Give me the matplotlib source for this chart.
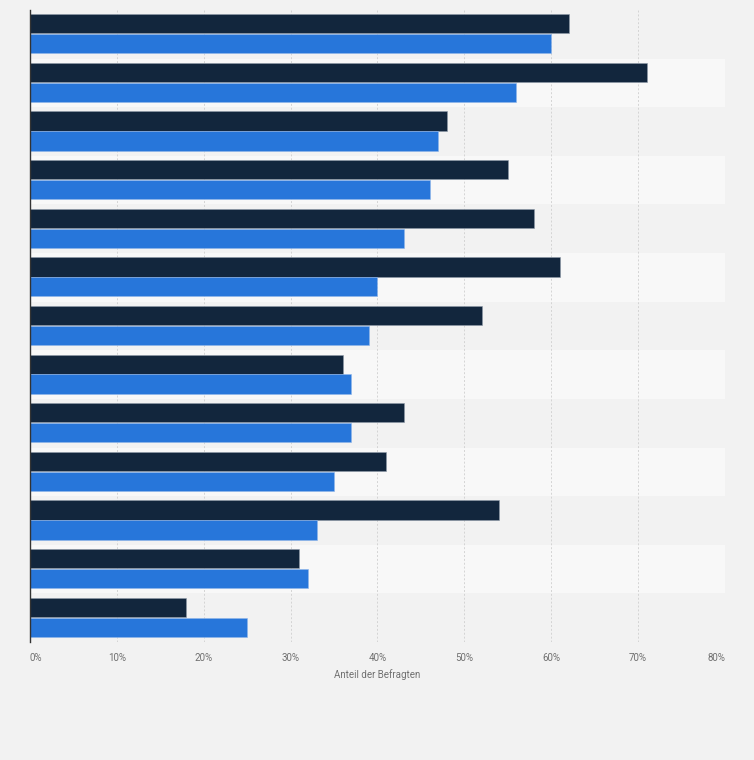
import matplotlib as mpl
import matplotlib.pyplot as plt
import numpy as np

FIG_W, FIG_H = 7.54, 7.60
DPI = 100

BG_COLOR = "#f2f2f2"
BAND_LIGHT = "#f8f8f8"
DARK_COLOR = "#12263d"
BLUE_COLOR = "#2776da"
GRID_COLOR = "#d4d4d4"
TEXT_GRAY = "#707070"

mpl.rcParams.update(
    {
        "font.family": ["Roboto", "DejaVu Sans"],
        "font.size": 7,
        "figure.facecolor": BG_COLOR,
        "savefig.facecolor": BG_COLOR,
    }
)

# one row per group, top to bottom (no category labels shown in the chart)
group_ids = list(range(1, 14))
series_dark = [62, 71, 48, 55, 58, 61, 52, 36, 43, 41, 54, 31, 18]
series_blue = [60, 56, 47, 46, 43, 40, 39, 37, 37, 35, 33, 32, 25]

x_ticks = [0, 10, 20, 30, 40, 50, 60, 70, 80]
x_tick_labels = [f"{t}%" for t in x_ticks]
x_label = "Anteil der Befragten"


def main():
    fig = plt.figure(figsize=(FIG_W, FIG_H), dpi=DPI)
    ax = fig.add_axes([30 / 754, 1 - 642 / 760, 695 / 754, 632 / 760])
    ax.set_facecolor(BG_COLOR)

    y = np.arange(len(group_ids))

    # alternating row bands
    for i in y:
        if i % 2 == 1:
            ax.axhspan(i - 0.5, i + 0.5, color=BAND_LIGHT, zorder=0, lw=0)

    bar_h = 0.395
    ax.barh(y - 0.215, series_dark, height=bar_h, color=DARK_COLOR,
            edgecolor="#8e9aa8", linewidth=0.4, zorder=3)
    ax.barh(y + 0.195, series_blue, height=bar_h, color=BLUE_COLOR,
            edgecolor="#8fb6ea", linewidth=0.4, zorder=3)

    ax.set_xlim(0, 80)
    ax.set_ylim(len(group_ids) - 0.5, -0.5)
    ax.set_yticks([])
    ax.set_xticks(x_ticks)
    ax.set_xticklabels(x_tick_labels, color=TEXT_GRAY, fontsize=7)
    labels = ax.get_xticklabels()
    labels[0].set_horizontalalignment("left")
    labels[-1].set_horizontalalignment("right")
    ax.tick_params(axis="x", length=0, pad=8)

    ax.grid(axis="x", linestyle=(0, (2, 2)), linewidth=0.7, color=GRID_COLOR, zorder=1)
    ax.set_axisbelow(True)

    for side in ["top", "right", "bottom"]:
        ax.spines[side].set_visible(False)
    ax.spines["left"].set_color("#333333")
    ax.spines["left"].set_linewidth(1.0)
    ax.spines["left"].set_zorder(4)

    ax.set_xlabel(x_label, color=TEXT_GRAY, fontsize=7, labelpad=4)

    fig.savefig("out.png", dpi=DPI, facecolor=BG_COLOR)
    plt.close(fig)


if __name__ == "__main__":
    main()
